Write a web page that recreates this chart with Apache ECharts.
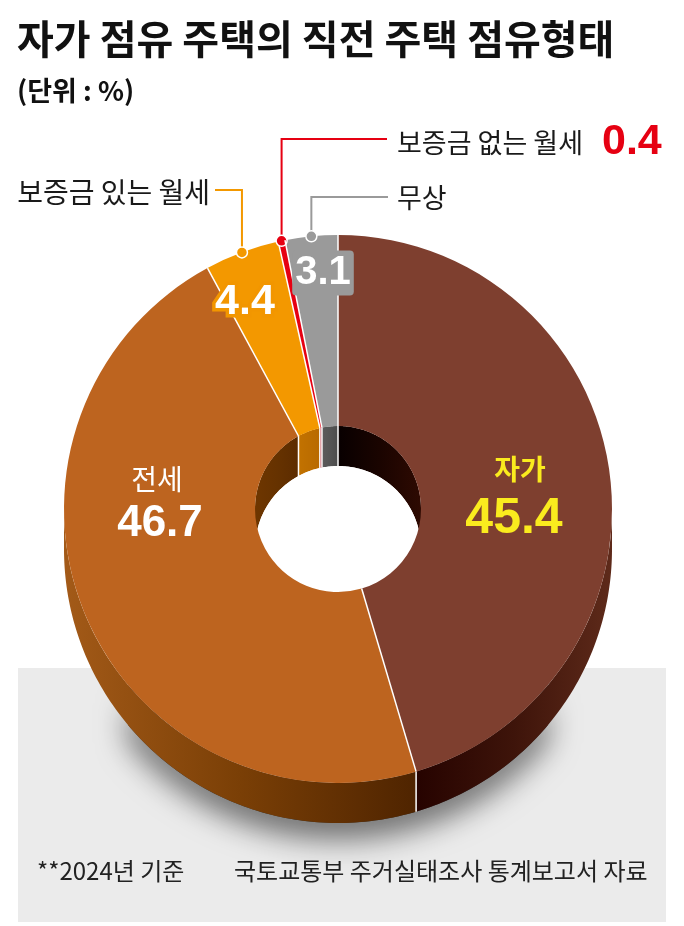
<!DOCTYPE html>
<html>
<head>
<meta charset="utf-8">
<script src="https://cdn.jsdelivr.net/npm/echarts@6/dist/echarts.min.js"></script>
<style>
  html, body { margin: 0; padding: 0; background: #fff; }
  #chart { width: 684px; height: 926px; }
</style>
</head>
<body>
<div id="chart"></div>
<script>
// ====== Data ======
const categories = ['자가', '전세', '보증금 있는 월세', '보증금 없는 월세', '무상'];
const shares = [45.4, 46.7, 4.4, 0.4, 3.1];

// ====== Look ======
const KR = '"Noto Sans CJK KR", sans-serif';
const NUM = '"Liberation Sans", Arial, sans-serif';

const CX = 338, CY = 509, R_OUT = 274, R_IN = 83, DEPTH = 40;

const topColors = ['#7e3f2f', '#bd641f', '#f39800', '#e60012', '#9a9a9a'];
// side of the disc (left -> right)
const sideColors = [
  ['#260300', '#3e140a', '#5e2a1a'],
  ['#a35a18', '#7a3f06', '#4f2400'],
  ['#c47400', '#c47400', '#c47400'],
  ['#b0000e', '#b0000e', '#b0000e'],
  ['#5a5a5a', '#5a5a5a', '#5a5a5a']
];
// inner wall of the hole (left -> right)
const wallColors = [
  ['#080000', '#1a0400', '#2e0a02'],
  ['#6e3600', '#663200', '#5c2c00'],
  ['#c27200', '#bd6e00', '#b86a00'],
  ['#b0000e', '#b0000e', '#b0000e'],
  ['#5c5c5c', '#555555', '#4c4c4c']
];

// where each label sits (name / value), and leader lines
const labelSpots = [
  { name: [520, 469], value: [514, 519], color: '#faeb1e', nameFont: 'bold 28px ' + KR, valueFont: 'bold 50px ' + NUM },
  { name: [157, 479], value: [160, 524], color: '#ffffff', nameFont: '28px ' + KR, valueFont: 'bold 44px ' + NUM },
  { value: [245, 302], outline: '#f29600', valueFont: 'bold 43px ' + NUM,
    leader: { y: 190, x: 215 }, outName: [210, 192, 'right'] },
  { leader: { y: 139, x: 387 }, outName: [397, 143, 'left'], outValue: [602, 142] },
  { value: [323, 273], box: '#9a9a9a', valueFont: 'bold 40px ' + NUM,
    leader: { y: 197, x: 388 }, outName: [397, 198, 'left'] }
];

// ====== Angles from the data ======
const total = shares.reduce((a, b) => a + b, 0);
const startAngles = [];
let acc = 0;
shares.forEach(v => { startAngles.push(acc / total * 360); acc += v; });
const endAngles = startAngles.map((a, i) => a + shares[i] / total * 360);

function pt(a, r, dy) {
  const t = a * Math.PI / 180;
  return [CX + r * Math.sin(t), CY - r * Math.cos(t) + (dy || 0)];
}

// extruded strip of an arc (top edge + same edge pushed down)
function band(a1, a2, r) {
  const pts = [];
  const n = Math.max(2, Math.ceil(a2 - a1));
  for (let k = 0; k <= n; k++) pts.push(pt(a1 + (a2 - a1) * k / n, r));
  for (let k = n; k >= 0; k--) pts.push(pt(a1 + (a2 - a1) * k / n, r, DEPTH));
  return pts;
}

function clip(a1, a2, lo, hi) {
  const out = [];
  [0, -360].forEach(sh => {
    const s = Math.max(a1 + sh, lo), e = Math.min(a2 + sh, hi);
    if (e - s > 0.01) out.push([s, e]);
  });
  return out;
}

function hGrad(pts, cols) {
  const xs = pts.map(p => p[0]);
  const x0 = Math.min(...xs), x1 = Math.max(...xs);
  return new echarts.graphic.LinearGradient(x0, 0, x1, 0, [
    { offset: 0, color: cols[0] },
    { offset: 0.5, color: cols[1] },
    { offset: 1, color: cols[2] }
  ], true);
}

// ====== Chart ======
const chart = echarts.init(document.getElementById('chart'));

const option = {
  animation: false,
  backgroundColor: '#fff',
  title: {
    text: '자가 점유 주택의 직전 주택 점유형태',
    subtext: '(단위 : %)',
    left: 12,
    top: 14,
    itemGap: 18,
    textStyle: { fontFamily: KR, fontSize: 40, fontWeight: 'bold', color: '#111' },
    subtextStyle: { fontFamily: KR, fontSize: 27, fontWeight: 'bold', color: '#111' }
  },
  graphic: [
    { type: 'rect', z: 0, shape: { x: 18, y: 668, width: 648, height: 254 }, style: { fill: '#ebebeb' } },
    { type: 'text', z: 1, x: 37, y: 871, style: { text: '**2024년 기준', font: '24px ' + KR, fill: '#222', verticalAlign: 'middle' } },
    { type: 'text', z: 1, x: 234, y: 871, style: { text: '국토교통부 주거실태조사 통계보고서 자료', font: '24px ' + KR, fill: '#222', verticalAlign: 'middle' } }
  ],
  series: [
    // soft shadow under the disc
    {
      type: 'custom', coordinateSystem: 'none', z: 1, silent: true,
      data: [0],
      renderItem: () => ({
        type: 'polygon',
        shape: { points: band(130, 230, R_OUT) },
        style: { fill: '#333', shadowBlur: 30, shadowOffsetY: 16, shadowColor: 'rgba(0,0,0,0.55)' }
      })
    },
    // outer side + inner wall of each slice
    {
      type: 'custom', coordinateSystem: 'none', z: 2, silent: true,
      data: shares,
      renderItem: (params) => {
        const i = params.dataIndex;
        const children = [];
        clip(startAngles[i], endAngles[i], 90, 270).forEach(([s, e]) => {
          const pts = band(s, e, R_OUT);
          children.push({ type: 'polygon', shape: { points: pts }, style: { fill: hGrad(pts, sideColors[i]) } });
        });
        clip(startAngles[i], endAngles[i], -90, 90).forEach(([s, e]) => {
          const pts = band(s, e, R_IN);
          children.push({ type: 'polygon', shape: { points: pts }, style: { fill: hGrad(pts, wallColors[i]) } });
        });
        return { type: 'group', children };
      }
    },
    // bottom opening of the hole
    {
      type: 'custom', coordinateSystem: 'none', z: 3, silent: true,
      data: [0],
      renderItem: () => ({
        type: 'circle',
        shape: { cx: CX, cy: CY + DEPTH, r: R_IN },
        style: { fill: '#fff' }
      })
    },
    // white edges on side and wall
    {
      type: 'custom', coordinateSystem: 'none', z: 4, silent: true,
      data: shares,
      renderItem: (params) => {
        const a = startAngles[params.dataIndex];
        const children = [];
        if (a > 90 && a < 270) {
          const p = pt(a, R_OUT);
          children.push({ type: 'line', shape: { x1: p[0], y1: p[1], x2: p[0], y2: p[1] + DEPTH }, style: { stroke: '#fff', lineWidth: 1.5 } });
        }
        if (a < 90 || a > 270) {
          const p = pt(a, R_IN);
          children.push({ type: 'line', shape: { x1: p[0], y1: p[1], x2: p[0], y2: p[1] + DEPTH }, style: { stroke: '#fff', lineWidth: 1.5 } });
        }
        return { type: 'group', children };
      }
    },
    // top face
    {
      type: 'pie', z: 5, silent: true,
      center: [CX, CY],
      radius: [R_IN, R_OUT],
      startAngle: 90,
      clockwise: true,
      avoidLabelOverlap: false,
      label: { show: false },
      labelLine: { show: false },
      itemStyle: { borderWidth: 0 },
      data: categories.map((name, i) => ({ name, value: shares[i], itemStyle: { color: topColors[i] } }))
    },
    // slice borders on the top face, leader lines and dots
    {
      type: 'custom', coordinateSystem: 'none', z: 6, silent: true,
      data: shares,
      renderItem: (params) => {
        const i = params.dataIndex;
        const a = startAngles[i];
        const p1 = pt(a, R_IN), p2 = pt(a, R_OUT);
        const children = [
          { type: 'line', shape: { x1: p1[0], y1: p1[1], x2: p2[0], y2: p2[1] }, style: { stroke: '#fff', lineWidth: 1.5 } }
        ];
        const spot = labelSpots[i];
        if (spot.leader) {
          const d = pt((startAngles[i] + endAngles[i]) / 2, R_OUT);
          children.push({
            type: 'polyline',
            shape: { points: [d, [d[0], spot.leader.y], [spot.leader.x, spot.leader.y]] },
            style: { stroke: topColors[i], lineWidth: 2, fill: null }
          });
          children.push({
            type: 'circle', shape: { cx: d[0], cy: d[1], r: 5.5 },
            style: { fill: topColors[i], stroke: '#fff', lineWidth: 1.5 }
          });
        }
        return { type: 'group', children };
      }
    },
    // labels
    {
      type: 'custom', coordinateSystem: 'none', z: 7, silent: true,
      data: shares,
      renderItem: (params, api) => {
        const i = params.dataIndex;
        const spot = labelSpots[i];
        const val = api.value(0).toFixed(1);
        const children = [];
        if (spot.name) {
          children.push({ type: 'text', x: spot.name[0], y: spot.name[1],
            style: { text: categories[i], font: spot.nameFont, fill: spot.color, align: 'center', verticalAlign: 'middle' } });
        }
        if (spot.value) {
          const st = { text: val, font: spot.valueFont, fill: spot.color || '#fff', align: 'center', verticalAlign: 'middle' };
          if (spot.outline) { st.stroke = spot.outline; st.lineWidth = 7; st.lineJoin = 'round'; }
          if (spot.box) { st.backgroundColor = spot.box; st.padding = [4, 3, 1, 3]; st.borderRadius = 4; }
          children.push({ type: 'text', x: spot.value[0], y: spot.value[1], style: st });
        }
        if (spot.outName) {
          children.push({ type: 'text', x: spot.outName[0], y: spot.outName[1],
            style: { text: categories[i], font: (i === 2 ? '28px ' : '27px ') + KR, fill: '#1a1a1a', align: spot.outName[2], verticalAlign: 'middle' } });
        }
        if (spot.outValue) {
          children.push({ type: 'text', x: spot.outValue[0], y: spot.outValue[1],
            style: { text: val, font: 'bold 43px ' + NUM, fill: topColors[i], align: 'left', verticalAlign: 'middle' } });
        }
        return { type: 'group', children };
      }
    }
  ]
};

chart.setOption(option);
</script>
</body>
</html>
